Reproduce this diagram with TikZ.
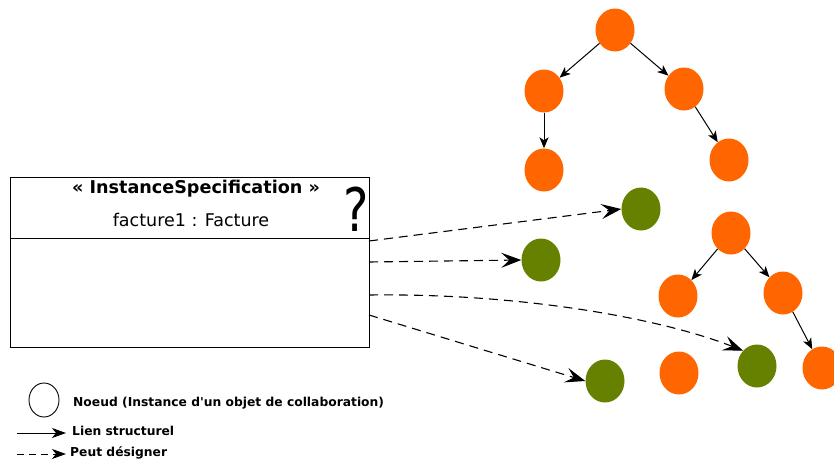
\documentclass[tikz,border=0pt]{standalone}
\usepackage{fontspec}
\setmainfont{DejaVu Sans}
\usetikzlibrary{arrows.meta,shapes.geometric}
\definecolor{orangeN}{RGB}{255,102,0}
\definecolor{greenN}{RGB}{102,128,0}
\tikzset{
  onode/.style={ellipse,fill=orangeN,draw=none,minimum width=39pt,minimum height=43pt,inner sep=0pt},
  gnode/.style={ellipse,fill=greenN,draw=none,minimum width=39pt,minimum height=43pt,inner sep=0pt},
  link/.style={-{Stealth[length=11pt,width=9pt,inset=3pt]},line width=1pt},
  desig/.style={-{Stealth[length=20pt,width=15pt,inset=8pt]},dash pattern=on 9pt off 6pt,line width=1.1pt},
  lbl/.style={font=\fontsize{12.3}{14}\selectfont\bfseries,anchor=west,inner sep=0pt}
}
\begin{document}
\begin{tikzpicture}[x=1pt,y=-1pt]
\useasboundingbox (0,0) rectangle (834,463);
% box
\node[draw,line width=0.9pt,minimum width=359pt,minimum height=170pt,anchor=north west,inner sep=0pt] (box) at (10,177) {};
\draw[line width=0.9pt] (10,238) -- (369,238);
\node[font=\fontsize{17.6}{19}\selectfont\bfseries] (stereo) at (196,189) {« InstanceSpecification »};
\node[font=\fontsize{17.5}{19}\selectfont] (name) at (191,220) {facture1 : Facture};
\node[font=\fontsize{60}{60}\selectfont,xscale=0.8,inner sep=0pt] (q) at (356,209) {?};
% tree 1
\node[onode] (A) at (615,30) {};
\node[onode] (B) at (544,91) {};
\node[onode] (C) at (684,89) {};
\node[onode] (D) at (544,170) {};
\node[onode] (E) at (729,160) {};
% tree 2
\node[onode] (F) at (731,233) {};
\node[onode] (H) at (678,296) {};
\node[onode] (I) at (783,293) {};
\node[onode] (J) at (822,368) {};
\node[onode] (K) at (679,373) {};
% green
\node[gnode] (G1) at (641,209) {};
\node[gnode] (G2) at (541,260) {};
\node[gnode] (G3) at (605,381) {};
\node[gnode] (G4) at (757,366) {};
% links
\draw[link] (A) -- (B);
\draw[link] (A) -- (C);
\draw[link] (B) -- (D);
\draw[link] (C) -- (E);
\draw[link] (F) -- (H);
\draw[link] (F) -- (I);
\draw[link] (I) -- (J);
% designation
\coordinate (s1) at (369,241);
\coordinate (s2) at (369,262);
\coordinate (s3) at (369,295);
\coordinate (s4) at (369,315);
\draw[desig] (s1) -- (G1.west);
\draw[desig] (s2) -- (G2.west);
\draw[desig] (s3) .. controls (520,293) and (660,318) .. (G4.north west);
\draw[desig] (s4) -- (G3.west);
% legend
\node[ellipse,draw,line width=0.9pt,minimum width=30pt,minimum height=34pt,inner sep=0pt] (leg) at (44,400) {};
\node[lbl] (legt1) at (73,403) {Noeud (Instance d\textquotesingle un objet de collaboration)};
\coordinate (l1a) at (17,433);
\coordinate (l1b) at (66,433);
\draw[-{Stealth[length=14pt,width=10pt,inset=4pt]},line width=1pt] (l1a) -- (l1b);
\node[lbl] (legt2) at (72,431) {Lien structurel};
\coordinate (l2a) at (17,454);
\coordinate (l2b) at (66,454);
\draw[-{Stealth[length=14pt,width=10pt,inset=4pt]},dash pattern=on 7pt off 5pt,line width=1pt] (l2a) -- (l2b);
\node[lbl] (legt3) at (70,453) {Peut désigner};
\end{tikzpicture}
\end{document}
